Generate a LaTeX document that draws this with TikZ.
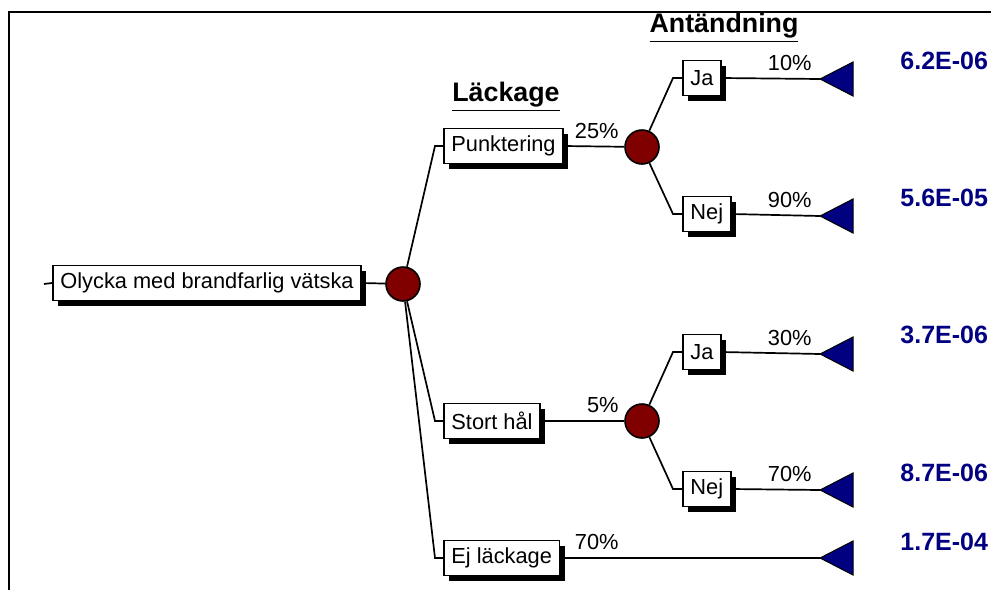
\documentclass[tikz,border=0pt]{standalone}
\usepackage{fontspec}
\setmainfont{Liberation Sans}
\usetikzlibrary{shadows}
\definecolor{maroon}{RGB}{128,0,0}
\definecolor{navyb}{RGB}{0,0,128}
\tikzset{
  evt/.style={draw, line width=0.8pt, fill=white, minimum height=17.5pt, inner xsep=3.8pt, inner ysep=0pt,
    font=\fontsize{10.9}{12}\selectfont, anchor=west,
    drop shadow={shadow xshift=2.5pt, shadow yshift=-2.5pt, fill=black, opacity=1}},
  chance/.style={circle, draw, line width=0.8pt, fill=maroon, minimum size=17pt, inner sep=0pt},
  pct/.style={font=\fontsize{10.9}{12}\selectfont, anchor=south east, inner sep=0pt},
  val/.style={font=\bfseries\fontsize{12.5}{14}\selectfont, text=navyb, anchor=west, inner sep=0pt},
  head/.style={font=\bfseries\fontsize{13.4}{16}\selectfont, inner sep=0pt},
  edge/.style={line width=0.85pt},
  endtri/.style={fill=navyb, draw=black, line width=0.5pt}
}
\begin{document}
\begin{tikzpicture}[x=0.5pt, y=-0.5pt]
\useasboundingbox (0,0) rectangle (991,590);
% frame
\draw[line width=1.2pt] (9,590) -- (9,12) -- (991,12);

% headings
\node[head] (hlack) at (506,97) {\underline{Läckage}};
\node[head] (hant) at (724,28) {\underline{Antändning}};

% root and first chance node
\coordinate (stub) at (44,284);
\node[evt] (root) at (52,283) {Olycka med brandfarlig vätska};
\node[chance] (c1) at (403,284) {};
\draw[edge] (stub) -- (root.west);
\draw[edge] (root.east) -- (c1);

% leakage branches
\node[evt] (punkt) at (443,146) {Punktering};
\node[evt] (stort) at (443,421) {Stort hål};
\node[evt] (ej) at (443,558) {Ej läckage};
\foreach \b in {punkt,stort,ej}
  \draw[edge] (\b.west) -- ++(-8,0) -- (c1);

% ignition chance nodes
\node[chance] (c2) at (642,147) {};
\node[chance] (c3) at (642,421) {};
\draw[edge] (punkt.east) -- (c2);
\draw[edge] (stort.east) -- (c3);
\node[pct] (p25) at (619,139) {25\%};
\node[pct] (p5) at (619,413) {5\%};
\node[pct] (p70a) at (619,550) {70\%};

\node[evt] (ja1) at (682,78) {Ja};
\node[evt] (nej1) at (682,214) {Nej};
\node[evt] (ja2) at (682,352) {Ja};
\node[evt] (nej2) at (682,489) {Nej};
\draw[edge] (ja1.west) -- ++(-9,0) -- (c2);
\draw[edge] (nej1.west) -- ++(-9,0) -- (c2);
\draw[edge] (ja2.west) -- ++(-9,0) -- (c3);
\draw[edge] (nej2.west) -- ++(-9,0) -- (c3);

% end points
\coordinate (t1) at (820,79);
\coordinate (t2) at (820,216);
\coordinate (t3) at (820,354);
\coordinate (t4) at (820,490);
\coordinate (t5) at (820,558);
\draw[edge] (ja1.east) -- (t1);
\draw[edge] (nej1.east) -- (t2);
\draw[edge] (ja2.east) -- (t3);
\draw[edge] (nej2.east) -- (t4);
\draw[edge] (ej.east) -- (t5);
\foreach \t in {t1,t2,t3,t4,t5}
  \draw[endtri] (\t) -- ++(33,-17) -- ++(0,34) -- cycle;

\node[pct] (p10) at (812,71) {10\%};
\node[pct] (p90) at (812,208) {90\%};
\node[pct] (p30) at (812,346) {30\%};
\node[pct] (p70b) at (812,482) {70\%};

\node[val] (v1) at (900,61) {6.2E-06};
\node[val] (v2) at (900,198) {5.6E-05};
\node[val] (v3) at (900,335) {3.7E-06};
\node[val] (v4) at (900,473) {8.7E-06};
\node[val] (v5) at (900,542) {1.7E-04};
\end{tikzpicture}
\end{document}
